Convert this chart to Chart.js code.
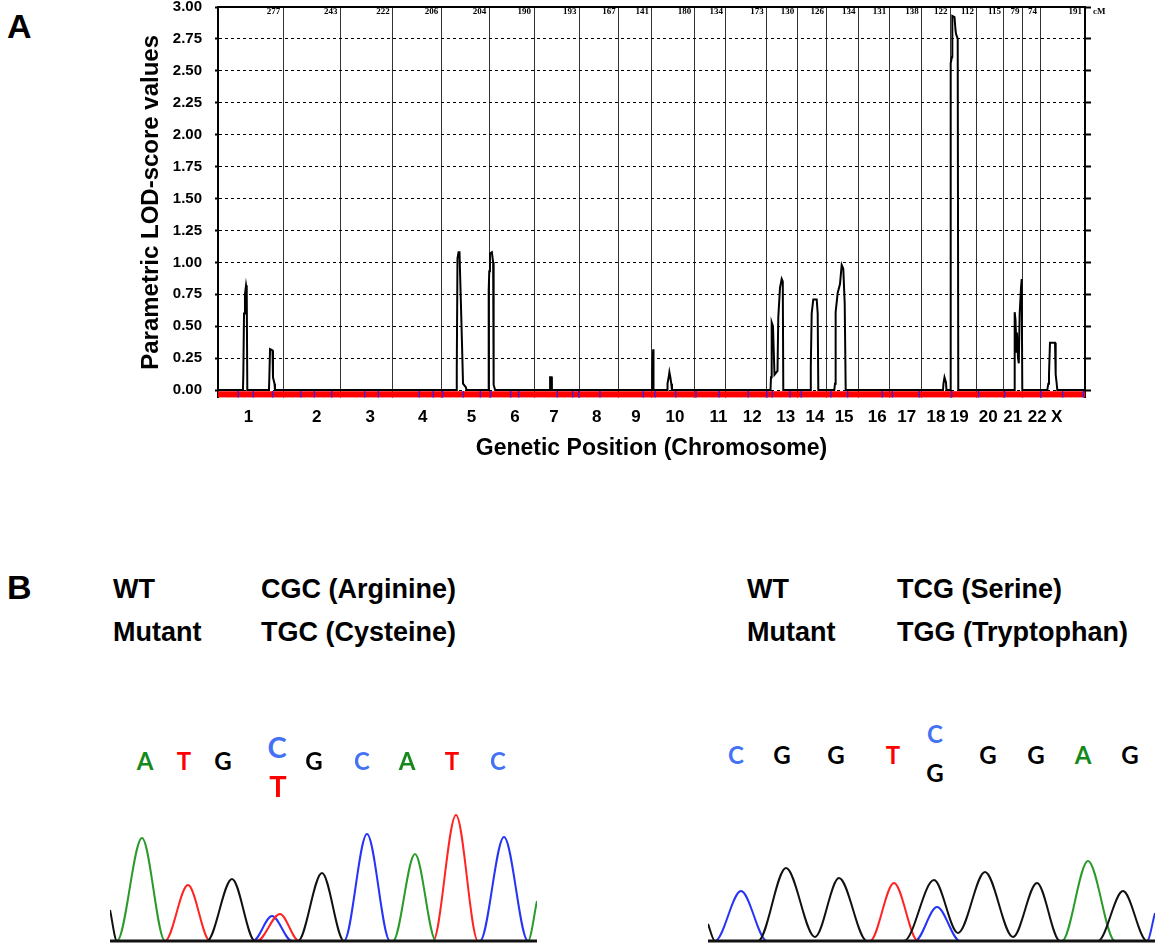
<!DOCTYPE html>
<html>
<head>
<meta charset="utf-8">
<script src="https://cdn.jsdelivr.net/npm/chart.js@4.4.1/dist/chart.umd.min.js"></script>
<style>
  html, body { margin: 0; padding: 0; background: #fff; }
  body { width: 1155px; height: 945px; position: relative; overflow: hidden;
         font-family: "Liberation Sans", Arial, sans-serif; color: #000; }
  canvas, .abs { position: absolute; }
  .panel { font-weight: bold; font-size: 34px; line-height: 1; transform: translateY(-50%); }
  .hdr { font-weight: bold; font-size: 27px; line-height: 1; white-space: nowrap; transform: translateY(-50%); }
  .base { font-family: Lato, "Open Sans", sans-serif; font-weight: 700; line-height: 1;
          transform: translate(-50%, -50%); }
</style>
</head>
<body>
<div class="abs panel" style="left:7px;top:26px">A</div>
<div class="abs panel" style="left:7px;top:587px">B</div>

<canvas id="lod" width="1155" height="470" style="left:0;top:0"></canvas>

<div class="abs hdr" style="left:113px;top:589px">WT</div>
<div class="abs hdr" style="left:261px;top:589px">CGC (Arginine)</div>
<div class="abs hdr" style="left:113px;top:632px">Mutant</div>
<div class="abs hdr" style="left:261px;top:632px">TGC (Cysteine)</div>
<div class="abs hdr" style="left:747px;top:589px">WT</div>
<div class="abs hdr" style="left:897px;top:589px">TCG (Serine)</div>
<div class="abs hdr" style="left:747px;top:632px">Mutant</div>
<div class="abs hdr" style="left:897px;top:632px">TGG (Tryptophan)</div>

<canvas id="traceL" width="427" height="145" style="left:110px;top:800px"></canvas>
<canvas id="traceR" width="447" height="145" style="left:708px;top:800px"></canvas>

<script>
// --- panel A data: linkage scan ---
const chromNames = ['1','2','3','4','5','6','7','8','9','10','11','12','13','14','15','16','17','18','19','20','21','22','X'];
const chromLenCM = [277,243,222,206,204,190,193,167,141,180,134,173,130,126,134,131,138,122,112,115,79,74,191];
// where each chromosome name sits under the axis (cM)
const chromLabelCM = [129,419,646,869,1077,1261,1427,1608,1775,1941,2125,2269,2411,2535,2659,2800,2925,
  3049,3148,3271,3375,3479,3562];
const yTicks = [0,0.25,0.5,0.75,1,1.25,1.5,1.75,2,2.25,2.5,2.75,3];

// genome position (cM from start of chr1) and LOD score
const lodPosCM = [0,
  106,107.5,110.5,114.5,119,122,124.5,
  216.5,218,221,231.5,233.5,240,242,
  1013,1014,1017,1021.5,1025.6,1029,1032,1036.4,1040.6,1053,1055,
  1149.5,1149.6,1152,1155,1163,1168.5,1169.2,1172,1177,
  1410,1410.3,1417,1418,
  1843.5,1844.5,1848,1849,1850,
  1908,1909,1914,1917,1921,1925,1928,
  2346.4,2348.5,2351.4,2356.9,2363.3,2376.1,2379.5,2386.6,2393.9,2398.5,2400.7,
  2517.1,2517.5,2521.3,2528.1,2542.6,2546.8,2549.4,
  2617.3,2620.3,2621.5,2624.5,2631.7,2641.5,2648.7,2655.5,2661.5,2665.7,
  3078.9,3081,3085.3,3091.6,3093.7,
  3110.8,3111.6,3117.2,3118.5,3127.8,3132,3134.2,3141.4,3143.9,
  3382.6,3383.4,3386.8,3391.1,3393.2,3397.4,3400.8,3404.6,3410.2,3413.2,3415.7,
  3521.9,3526.1,3529.1,3533.3,3554.6,3557.5,3561.8,3564.4,
  3682];
const lodScore = [0,
  0,0.12,0.6,0.75,0.82,0.78,0,
  0,0.1,0.32,0.31,0.1,0.05,0,
  0,0.15,1.03,1.08,1.08,0.85,0.65,0.35,0.05,0.02,0,
  0,0.78,0.93,1.07,1.08,1.0,0.1,0.04,0,
  0,0.1,0.1,0,
  0,0.15,0.32,0.32,0,
  0,0.05,0.1,0.14,0.1,0.05,0,
  0,0.1,0.53,0.5,0.12,0.15,0.57,0.8,0.87,0.85,0,
  0,0.18,0.6,0.71,0.71,0.6,0,
  0,0.05,0.27,0.61,0.76,0.83,0.98,0.95,0.68,0,
  0,0.05,0.1,0.06,0,
  0,2.56,2.61,2.93,2.92,2.82,2.79,2.75,0,
  0,0.61,0.55,0.3,0.45,0.25,0.21,0.6,0.8,0.87,0,
  0,0.05,0.12,0.37,0.37,0.12,0.05,0,
  0];
// marker positions (cM) shown on the red strip
const markerPosCM = [86,150,232,352,409,483,623,681,855,914,954,1042,1114,1158,1243,1277,1441,1506,
  1532,1622,1806,1856,1944,2030,2128,2252,2331,2354,2429,2477,2603,2674,2821,2864,2978,3116,3230,
  3341,3495,3587,3675];

// --- panel B data: sequencing traces [scan position, signal] ---
const wtBlack = [[110,31],[117,0],[207,0],[232,62],[255,0],[298,0],[322,68],[344,0],[537,0]];
const wtGreen = [[110,0],[117,0],[142,103],[165,0],[393,0],[415,87],[436,0],[528,0],[537,40]];
const wtRed = [[110,0],[165,0],[188,56],[210,0],[257,0],[280,27],[299,0],[433,0],[456,126],[478,0],[537,0]];
const wtBlue = [[110,0],[253,0],[272,25],[292,0],[344,0],[367,107],[390,0],[480,0],[504,104],[528,0],[537,0]];

const mutBlack = [[708,17],[715,0],[758,0],[786,73],[815,4],[839,63],[867,0],[904,0],[934,61],[958,8],
  [985,69],[1013,4],[1037,58],[1060,0],[1098,0],[1123,50],[1147,0],[1155,0]];
const mutBlue = [[708,0],[715,0],[741,50],[767,0],[915,0],[937,34],[960,0],[1147,0],[1155,28]];
const mutRed = [[708,0],[870,0],[894,58],[918,0],[1155,0]];
const mutGreen = [[708,0],[1062,0],[1088,80],[1115,0],[1155,0]];

// base calls above the traces
const leftCalls = ['A','T','G','C','G','C','A','T','C'];
const leftHet = {index: 3, second: 'T'};
const rightCalls = ['C','G','G','T','C','G','G','A','G'];
const rightHet = {index: 4, second: 'G'};

const baseColor = {A: '#15891b', T: '#ff0000', G: '#000000', C: '#4472f4'};
const FONT = '"Liberation Sans", Arial, sans-serif';

// chromosome boundaries
const bounds = [0];
chromLenCM.forEach(l => bounds.push(bounds[bounds.length - 1] + l));
const totalCM = bounds[bounds.length - 1];

// small cM numbers along the top edge
const topLabels = {
  id: 'topLabels',
  afterDraw(chart) {
    const {ctx, chartArea} = chart;
    const sx = chart.scales.x;
    ctx.save();
    ctx.font = 'bold 9px "Liberation Serif", serif';
    ctx.fillStyle = '#000';
    ctx.textBaseline = 'middle';
    ctx.textAlign = 'right';
    chromLenCM.forEach((len, i) => {
      ctx.fillText(String(len), sx.getPixelForValue(bounds[i + 1]) - 3, chartArea.top + 5);
    });
    ctx.textAlign = 'left';
    ctx.fillText('cM', chartArea.right + 8, chartArea.top + 5);
    ctx.restore();
  }
};

const setTicks = s => { s.ticks = yTicks.map(v => ({value: v})); };

new Chart(document.getElementById('lod'), {
  type: 'line',
  data: {
    datasets: [
      { label: 'LOD', data: lodPosCM.map((x, i) => ({x, y: lodScore[i]})),
        borderColor: '#000', borderWidth: 2, pointRadius: 0, tension: 0, order: 0 },
      { label: 'markers', data: markerPosCM.map(x => ({x, y: -0.034})), showLine: false,
        pointStyle: 'line', rotation: 90, pointRadius: 3.4, borderColor: '#2424ff',
        borderWidth: 1.3, order: 1 },
      { label: 'strip', data: [{x: 0, y: -0.009}, {x: totalCM, y: -0.009}],
        borderWidth: 0, pointRadius: 0, fill: {value: -0.06}, backgroundColor: '#ff0000', order: 2 }
    ]
  },
  options: {
    responsive: false, animation: false, events: [],
    layout: {padding: {left: 136, right: 40, top: 0, bottom: 0}, autoPadding: false},
    plugins: {legend: {display: false}, tooltip: {enabled: false}},
    scales: {
      x: {
        type: 'linear', position: 'bottom', min: 0, max: totalCM,
        afterBuildTicks: s => { s.ticks = chromLabelCM.map(v => ({value: v})); },
        ticks: {callback: (v, i) => chromNames[i], autoSkip: false, maxRotation: 0,
                font: {family: FONT, size: 17, weight: 'bold'}, color: '#000', padding: 1},
        grid: {display: false}, border: {display: false},
        title: {display: true, text: 'Genetic Position (Chromosome)', color: '#000',
                font: {family: FONT, size: 23, weight: 'bold'}, padding: {top: 0, bottom: 8}},
        afterFit: s => { s.height = 72.3; s.paddingLeft = 0; s.paddingRight = 0; }
      },
      xTop: {
        type: 'linear', position: 'top', min: 0, max: totalCM,
        afterBuildTicks: s => { s.ticks = bounds.slice(1, -1).map(v => ({value: v})); },
        ticks: {display: false},
        grid: {color: '#333', lineWidth: 1, drawTicks: false},
        border: {display: true, color: '#000', width: 2},
        afterFit: s => { s.height = 7; s.paddingLeft = 0; s.paddingRight = 0; }
      },
      y: {
        type: 'linear', position: 'left', min: -0.06, max: 3,
        afterBuildTicks: setTicks,
        ticks: {callback: v => v.toFixed(2), autoSkip: false, color: '#000', padding: 13,
                font: {family: FONT, size: 15, weight: 'bold'}},
        grid: {color: '#000', lineWidth: 1, tickLength: 3, tickColor: '#000', tickWidth: 2, tickBorderDash: []},
        border: {display: true, color: '#000', width: 2, dash: [3, 3]},
        title: {display: true, text: 'Parametric LOD-score values', color: '#000',
                font: {family: FONT, size: 24, weight: 'bold'}, padding: {top: 1, bottom: 0}},
        afterFit: s => { s.width = 82; s.paddingTop = 0; s.paddingBottom = 0; }
      },
      y2: {
        type: 'linear', position: 'right', min: -0.06, max: 3,
        afterBuildTicks: setTicks,
        ticks: {display: false},
        grid: {drawOnChartArea: false, tickLength: 6, tickColor: '#000', tickWidth: 2},
        border: {display: true, color: '#000', width: 2},
        afterFit: s => { s.width = 30; s.paddingTop = 0; s.paddingBottom = 0; }
      }
    }
  },
  plugins: [topLabels]
});

// sequencing trace charts
const traceSet = (pts, color) => ({
  data: pts.map(p => ({x: p[0], y: p[1]})), borderColor: color, borderWidth: 2,
  pointRadius: 0, cubicInterpolationMode: 'monotone'
});

const drawTrace = (id, xmin, xmax, traces) => {
  new Chart(document.getElementById(id), {
    type: 'line',
    data: {
      datasets: [
        {data: [{x: xmin, y: 0}, {x: xmax, y: 0}], borderColor: '#111', borderWidth: 3, pointRadius: 0}
      ].concat(traces)
    },
    options: {
      responsive: false, animation: false, events: [],
      layout: {padding: 0, autoPadding: false},
      plugins: {legend: {display: false}, tooltip: {enabled: false}},
      scales: {
        x: {type: 'linear', min: xmin, max: xmax, display: false},
        y: {type: 'linear', min: -4, max: 141, display: false}
      }
    }
  });
};

drawTrace('traceL', 110, 537, [
  traceSet(wtBlack, '#111'), traceSet(wtGreen, '#2a9a2a'),
  traceSet(wtRed, '#ff2424'), traceSet(wtBlue, '#2634f5')
]);
drawTrace('traceR', 708, 1155, [
  traceSet(mutBlack, '#111'), traceSet(mutGreen, '#2a9a2a'),
  traceSet(mutRed, '#ff2424'), traceSet(mutBlue, '#2634f5')
]);

// base call letters
const placeBase = (ch, x, y, size) => {
  const d = document.createElement('div');
  d.className = 'abs base';
  d.textContent = ch;
  d.style.left = x + 'px';
  d.style.top = y + 'px';
  d.style.fontSize = size + 'px';
  d.style.color = baseColor[ch];
  document.body.appendChild(d);
};
const leftCallX = [145, 184, 223, 277, 314, 362, 407, 452, 498];
const rightCallX = [736, 782, 836, 893, 935, 988, 1036, 1083, 1130];

leftCalls.forEach((ch, i) => {
  if (i === leftHet.index) {
    placeBase(ch, leftCallX[i], 746, 29);
    placeBase(leftHet.second, leftCallX[i] + 1, 785, 29);
  } else {
    placeBase(ch, leftCallX[i], 761, 24);
  }
});
rightCalls.forEach((ch, i) => {
  if (i === rightHet.index) {
    placeBase(ch, rightCallX[i], 734, 24);
    placeBase(rightHet.second, rightCallX[i], 773, 24);
  } else {
    placeBase(ch, rightCallX[i], 755, 24);
  }
});
</script>
</body>
</html>
